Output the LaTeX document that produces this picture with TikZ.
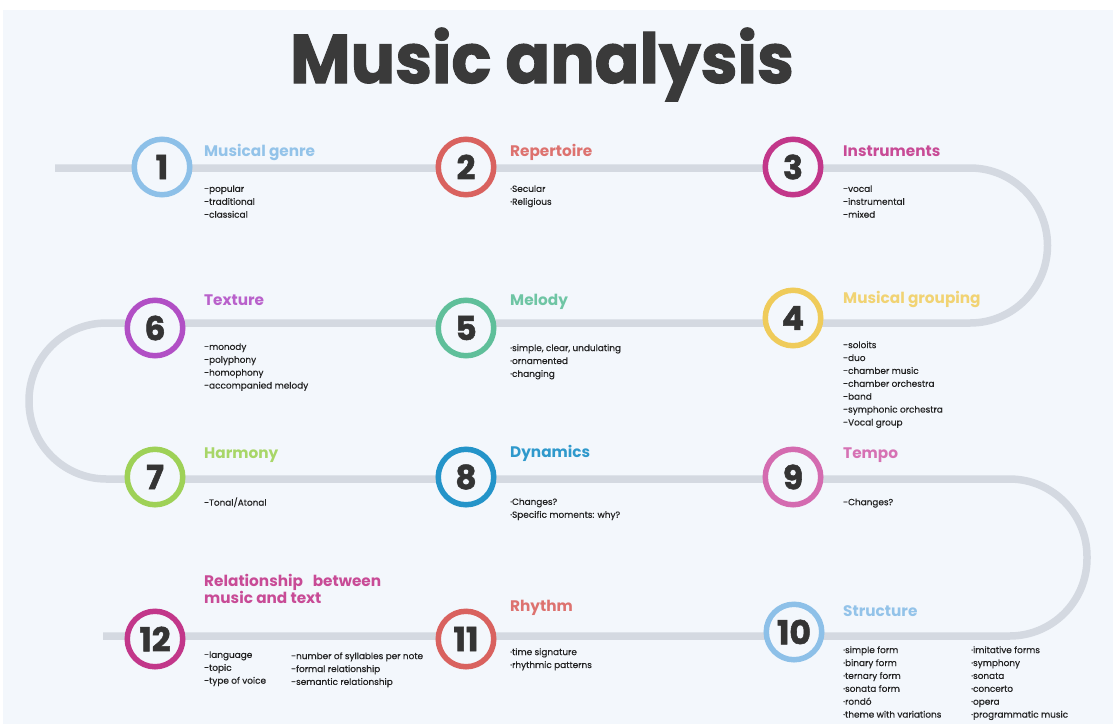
\documentclass[tikz,border=0pt]{standalone}
\usepackage{fontspec}
\setmainfont{Poppins}
\newfontfamily\titlefont[BoldFeatures={FakeBold=1.6}]{Poppins}
\newfontfamily\bodyfont[FakeBold=0.4]{Poppins}
\definecolor{bg}{HTML}{F3F7FC}
\definecolor{trackgray}{HTML}{D4D9E1}
\definecolor{titlegray}{HTML}{3A3A3A}
\definecolor{numgray}{HTML}{343434}
\definecolor{bodytext}{HTML}{222222}
\definecolor{cblue}{HTML}{8DC0E8}
\definecolor{cred}{HTML}{D9625F}
\definecolor{cmag}{HTML}{C2378A}
\definecolor{cyellow}{HTML}{EFCB5A}
\definecolor{cgreen}{HTML}{5FBF9A}
\definecolor{cpurple}{HTML}{B14FC5}
\definecolor{clime}{HTML}{9ED157}
\definecolor{cdeep}{HTML}{2494C9}
\definecolor{cpink}{HTML}{D46BB0}
\tikzset{
  track/.style={line width=7.5pt, draw=trackgray, rounded corners=77.5pt},
  num/.style={circle, draw=#1, line width=5.5pt, fill=bg, minimum size=55.5pt,
    inner sep=0pt, text=numgray, font=\titlefont\bfseries\fontsize{33}{33}\selectfont},
  head/.style={anchor=base west, inner sep=0pt, text=#1, align=left,
    font=\bfseries\fontsize{15.3}{17}\selectfont},
  body/.style={anchor=north west, inner sep=0pt, align=left, text=bodytext,
    font=\bodyfont\fontsize{8.9}{12.9}\selectfont, execute at begin node={\rule{0pt}{6.9pt}}},
}
\begin{document}
\begin{tikzpicture}[x=1pt,y=-1pt]
\useasboundingbox (0,0) rectangle (1113,724);
\fill[white] (0,0) rectangle (1113,724);
\fill[bg] (3,10) rectangle (1113,724);

% title
\node[anchor=base, inner sep=0pt, text=titlegray, font=\titlefont\bfseries\fontsize{60}{60}\selectfont]
  (title) at (542,83) {\scalebox{1.1}[1.15]{Music analysis}};

% winding track
\coordinate (ts) at (55,168);
\coordinate (te) at (103,636);
\draw[track] (ts) -- (1047.5,168) -- (1047.5,323) -- (29,323) -- (29,479)
  -- (1087,479) -- (1087,636) -- (te);

% numbered stations
\node[num=cblue]   (c1)  at (162,167) {1};
\node[num=cred]    (c2)  at (466,167) {2};
\node[num=cmag]    (c3)  at (793,167) {3};
\node[num=cyellow] (c4)  at (793,318) {4};
\node[num=cgreen]  (c5)  at (466,328) {5};
\node[num=cpurple] (c6)  at (155,328) {6};
\node[num=clime]   (c7)  at (155,477) {7};
\node[num=cdeep]   (c8)  at (466,477) {8};
\node[num=cpink]   (c9)  at (793,477) {9};
\node[num=cblue]   (c10) at (794,632) {10};
\node[num=cred]    (c11) at (466,639) {11};
\node[num=cmag]    (c12) at (155,639) {12};

% headings
\node[head=cblue!95!white]   (h1)  at (204,156) {Musical genre};
\node[head=cred!90!white]    (h2)  at (510,156) {Repertoire};
\node[head=cmag!90!white]    (h3)  at (843,156) {Instruments};
\node[head=cyellow!85!white] (h4)  at (843,303) {Musical grouping};
\node[head=cgreen!90!white]  (h5)  at (510,305) {Melody};
\node[head=cpurple!90!white] (h6)  at (204,305) {Texture};
\node[head=clime!90!white]   (h7)  at (204,458) {Harmony};
\node[head=cdeep!95!white]   (h8)  at (510,457) {Dynamics};
\node[head=cpink!95!white]   (h9)  at (843,458) {Tempo};
\node[head=cblue!95!white]   (h10) at (843,616) {Structure};
\node[head=cred!90!white]    (h11) at (510,611) {Rhythm};
\node[head=cmag!90!white]    (h12) at (204,603) {Relationship\ \ \ between\\music and text};

% item lists
\node[body] (b1)  at (204,185.1) {-popular\\-traditional\\-classical};
\node[body] (b2)  at (510,185.1) {·Secular\\·Religious};
\node[body] (b3)  at (843,185.1) {-vocal\\-instrumental\\-mixed};
\node[body] (b4)  at (843,341.1) {-soloits\\-duo\\-chamber music\\-chamber orchestra\\-band\\-symphonic orchestra\\-Vocal group};
\node[body] (b5)  at (510,344.1) {·simple, clear, undulating\\·ornamented\\·changing};
\node[body] (b6)  at (204,343.1) {-monody\\-polyphony\\-homophony\\-accompanied melody};
\node[body] (b7)  at (204,497.1) {-Tonal/Atonal};
\node[body] (b8)  at (510,498.1) {·Changes?\\·Specific moments: why?};
\node[body] (b9)  at (843,498.1) {-Changes?};
\node[body] (b10a) at (843,646.1) {·simple form\\·binary form\\·ternary form\\·sonata form\\·rondó\\·theme with variations};
\node[body] (b10b) at (971,646.1) {·imitative forms\\·symphony\\·sonata\\·concerto\\·opera\\·programmatic music};
\node[body] (b11) at (510,648.1) {·time signature\\·rhythmic patterns};
\node[body] (b12a) at (204,651.1) {-language\\-topic\\-type of voice};
\node[body] (b12b) at (291,652.1) {-number of syllables per note\\-formal relationship\\-semantic relationship};
\end{tikzpicture}
\end{document}
